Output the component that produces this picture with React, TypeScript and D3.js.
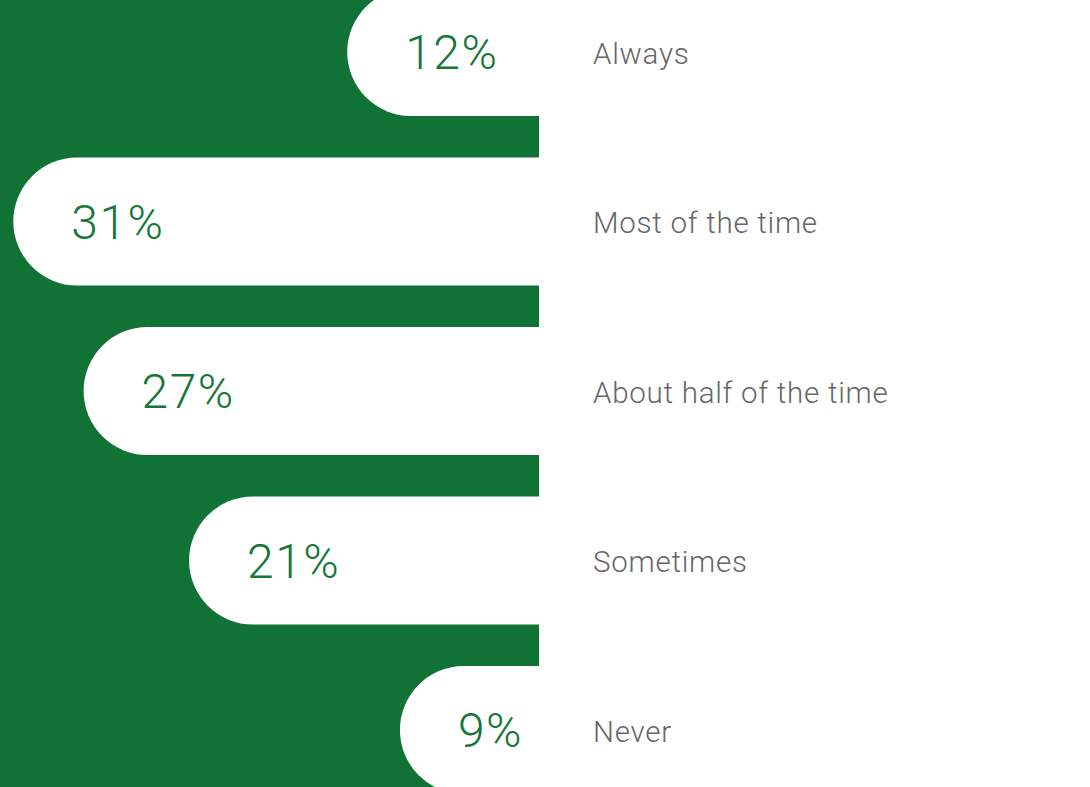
import React from "react";
import * as d3 from "d3";

const categories: string[] = ["Always", "Most of the time", "About half of the time", "Sometimes", "Never"];
const values: number[] = [12, 31, 27, 21, 9];
const valueLabels: string[] = ["12%", "31%", "27%", "21%", "9%"];

const W = 1090;
const H = 787;
const GREEN = "#107234";
const TEXT_GREEN = "#16773a";
const GREY = "#666666";
const EDGE = 539;
const LABEL_X = 593;

export default function App() {
  const y = d3
    .scaleBand<string>()
    .domain(categories)
    .range([-12, 794])
    .paddingInner(41.5 / 169.5)
    .paddingOuter(0);

  // bar extent (to the left of the green edge) from value
  const len = d3.scaleLinear().domain([0, 31]).range([-19.1, 525.7]);

  const bw = y.bandwidth();
  const r = bw / 2;

  return (
    <svg
      width={W}
      height={H}
      style={{ position: "absolute", left: 0, top: 0, display: "block" }}
      fontFamily="Roboto, 'Liberation Sans', Helvetica, Arial, sans-serif"
    >
      <rect x={0} y={0} width={W} height={H} fill="#ffffff" />
      <rect x={0} y={0} width={EDGE} height={H} fill={GREEN} />
      {categories.map((c, i) => {
        const top = y(c) as number;
        const left = EDGE - len(values[i]);
        const cy = top + r;
        const path = `M${EDGE + 2},${top} L${left + r},${top} A${r},${r} 0 0 0 ${left + r},${top + bw} L${EDGE + 2},${top + bw} Z`;
        return (
          <g key={c}>
            <path d={path} fill="#ffffff" />
            <text
              x={left + 58}
              y={cy}
              dy="0.36em"
              fontSize={48}
              fontWeight={300}
              letterSpacing={1.5}
              fill={TEXT_GREEN}
            >
              {valueLabels[i]}
            </text>
            <text
              x={LABEL_X}
              y={cy + 1}
              dy="0.36em"
              fontSize={29.5}
              fontWeight={300}
              letterSpacing={0.75}
              fill={GREY}
            >
              {c}
            </text>
          </g>
        );
      })}
    </svg>
  );
}
